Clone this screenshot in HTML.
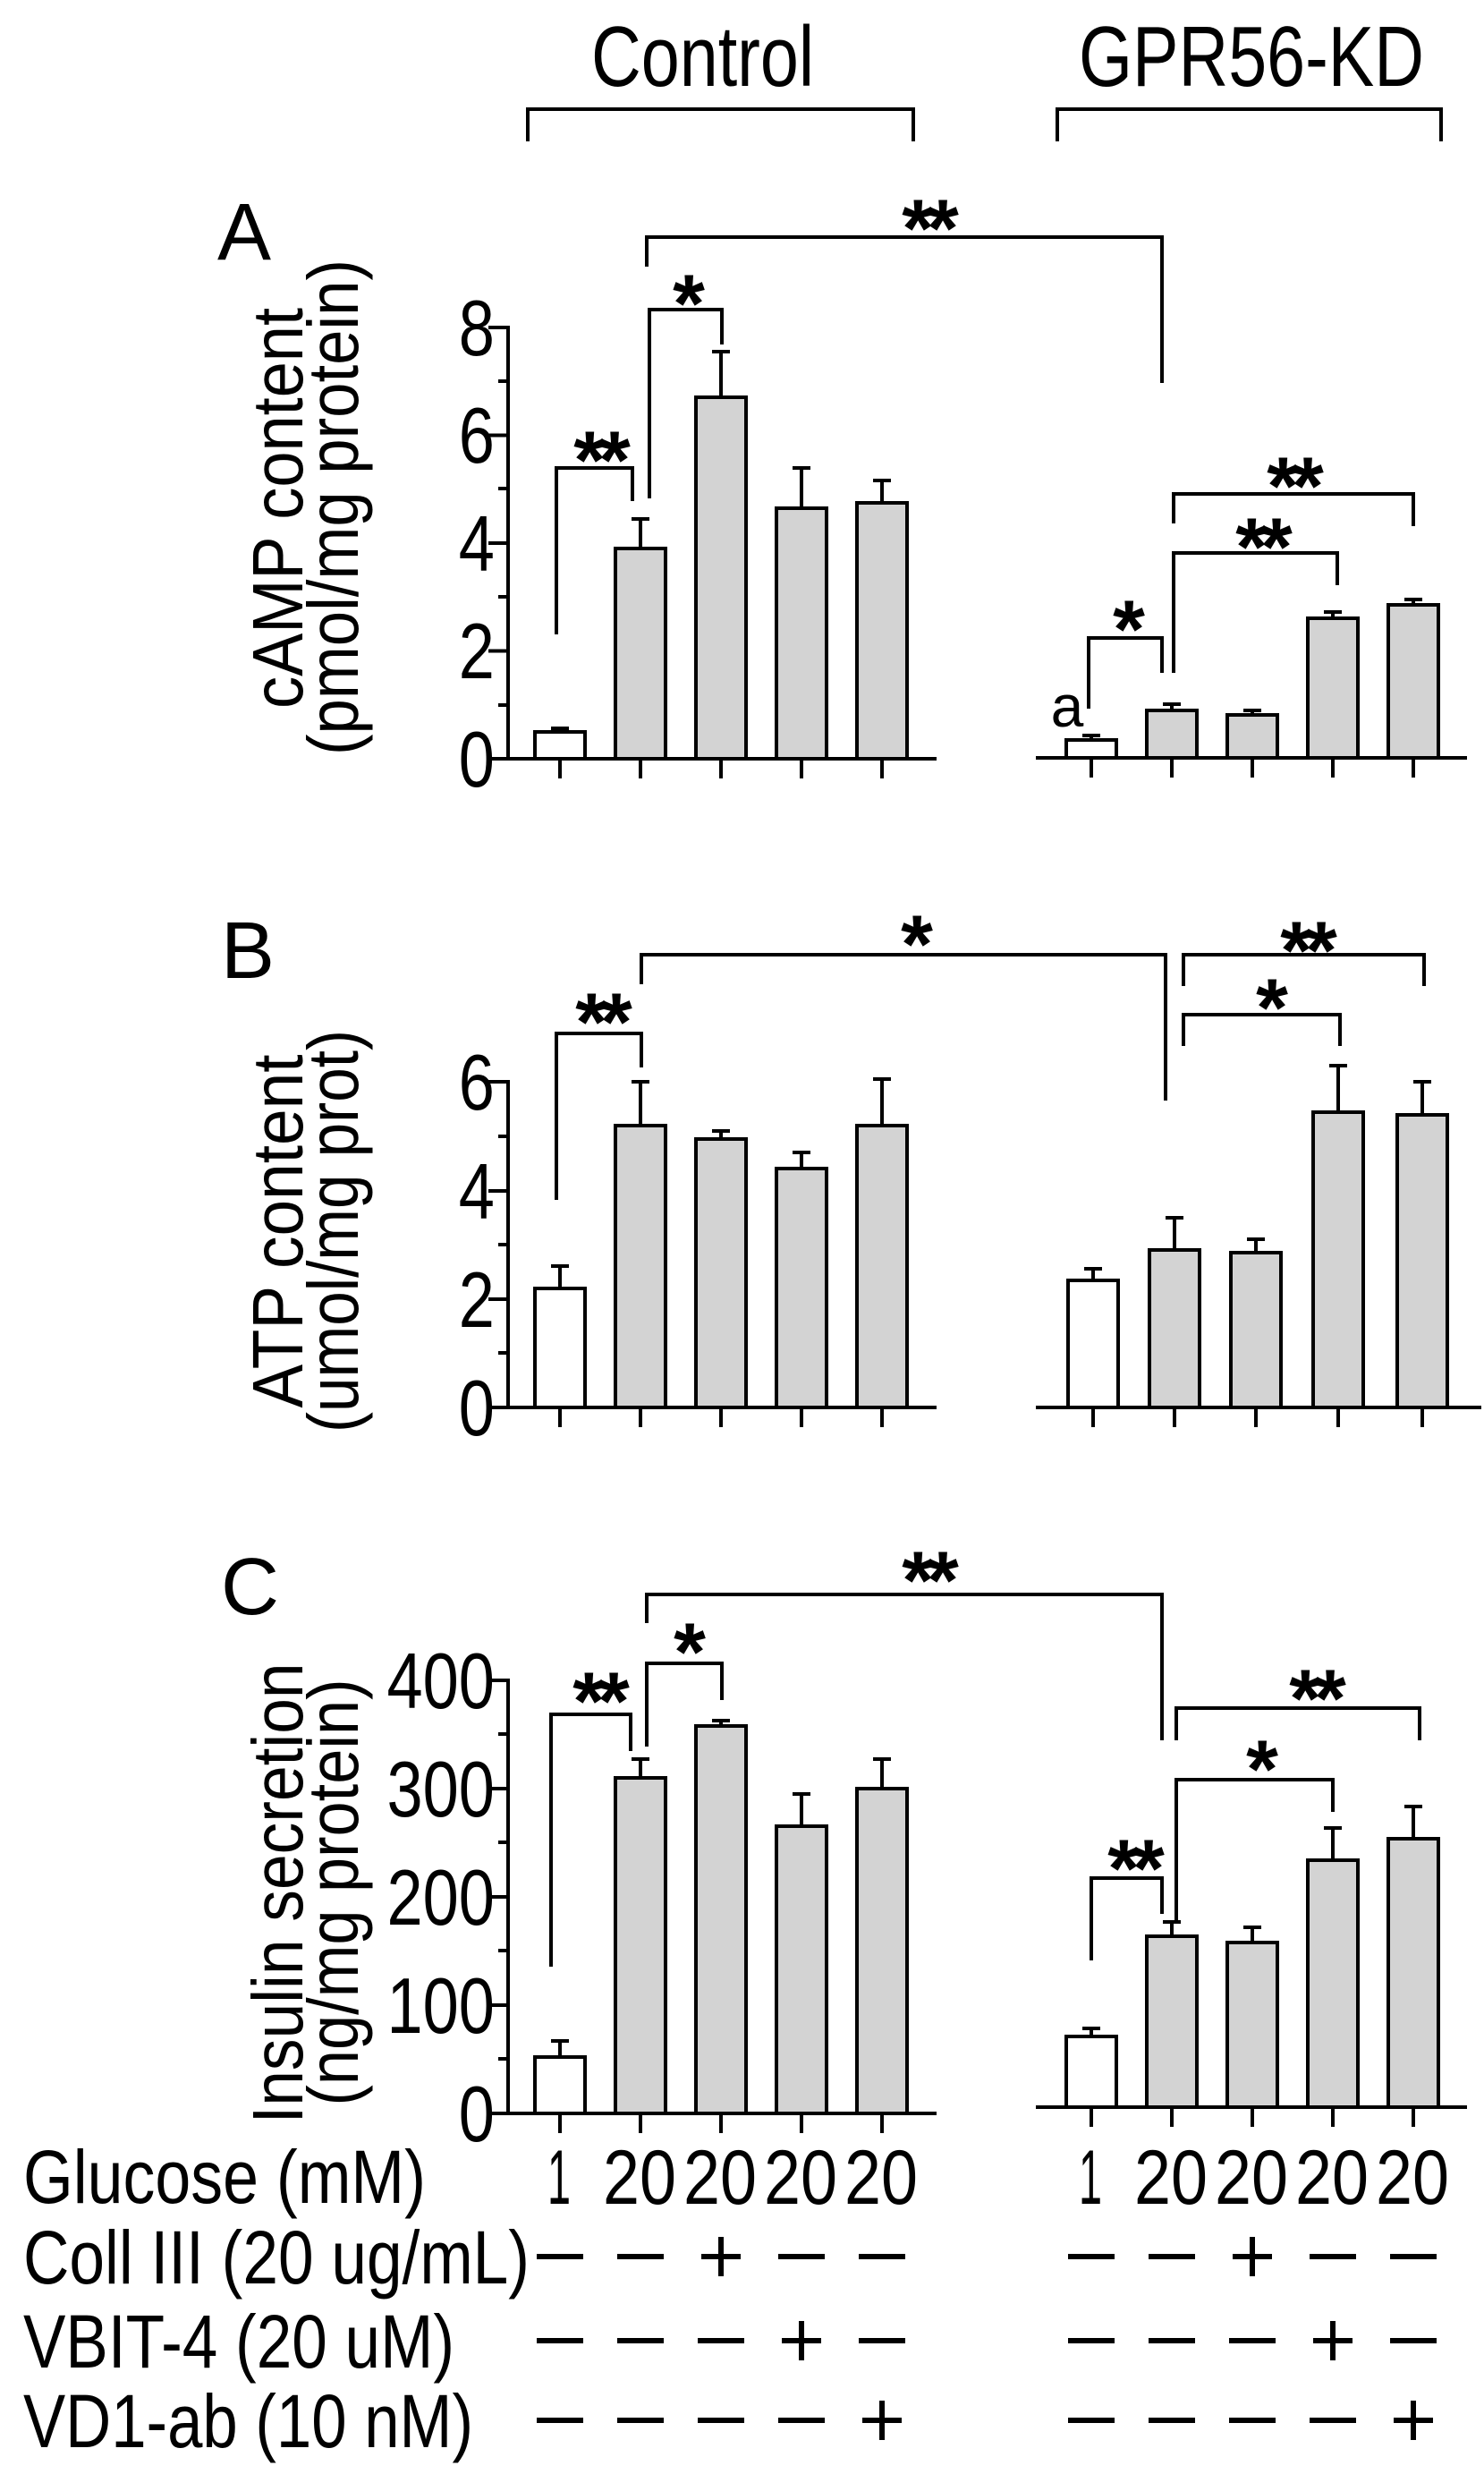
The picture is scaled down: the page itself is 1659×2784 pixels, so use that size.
<!DOCTYPE html>
<html><head><meta charset="utf-8"><style>
html,body{margin:0;padding:0;background:#fff;}
svg{display:block;}
text{font-family:"Liberation Sans",Arial,sans-serif;fill:#000;}
.st{font-size:92px;font-weight:bold;letter-spacing:-8px;}
</style></head><body>
<svg width="1659" height="2784" viewBox="0 0 1659 2784" xmlns="http://www.w3.org/2000/svg">
<rect width="1659" height="2784" fill="#fff"/>
<g font-size="96">
<text x="661" y="96" textLength="249" lengthAdjust="spacingAndGlyphs">Control</text>
<text x="1206" y="96" textLength="386" lengthAdjust="spacingAndGlyphs">GPR56-KD</text>
</g>
<g fill="none" stroke="#000" stroke-width="4">
<polyline points="590,158 590,122 1021,122 1021,158"/>
<polyline points="1182,158 1182,122 1611,122 1611,158"/>
</g>
<g font-size="90">
<text x="243" y="290">A</text>
<text x="247" y="1093">B</text>
<text x="247" y="1804">C</text>
</g>

<!-- ========== Panel A ========== -->
<g stroke="#000" stroke-width="4" fill="none">
<line x1="568" y1="364" x2="568" y2="850"/>
<line x1="566" y1="848" x2="1047" y2="848"/>
<line x1="1158" y1="847" x2="1640" y2="847"/>
<path d="M546 848H568M546 727.5H568M546 607H568M546 486.5H568M546 366H568M557 788H568M557 667H568M557 546H568M557 426H568"/>
<path d="M626 848v22M716 848v22M806 848v22M896 848v22M986 848v22"/>
<path d="M1220 847v22M1310 847v22M1400 847v22M1490 847v22M1580 847v22"/>
</g>
<g font-size="88" text-anchor="end" transform="matrix(0.82,0,0,1,99.5,0)">
<text x="553" y="879">0</text><text x="553" y="758">2</text><text x="553" y="638">4</text><text x="553" y="517">6</text><text x="553" y="397">8</text>
</g>
<g stroke="#000" stroke-width="4">
<path d="M716 613V580M706 580H726M806 444V393M796 393H816M896 568V523M886 523H906M986 562V537M976 537H996M626 818V814M616 814H636"/>
<path d="M1220 827V822M1210 822H1230M1310 794V787M1300 787H1320M1400 799V794M1390 794H1410M1490 691V684M1480 684H1500M1580 676V670M1570 670H1590"/>
<rect x="598" y="818" width="56" height="30" fill="#fff"/>
<rect x="688" y="613" width="56" height="235" fill="#d3d3d3"/>
<rect x="778" y="444" width="56" height="404" fill="#d3d3d3"/>
<rect x="868" y="568" width="56" height="280" fill="#d3d3d3"/>
<rect x="958" y="562" width="56" height="286" fill="#d3d3d3"/>
<rect x="1192" y="827" width="56" height="20" fill="#fff"/>
<rect x="1282" y="794" width="56" height="53" fill="#d3d3d3"/>
<rect x="1372" y="799" width="56" height="48" fill="#d3d3d3"/>
<rect x="1462" y="691" width="56" height="156" fill="#d3d3d3"/>
<rect x="1552" y="676" width="56" height="171" fill="#d3d3d3"/>
</g>
<g stroke="#000" stroke-width="4" fill="none">
<polyline points="723,298 723,265 1299,265 1299,428"/>
<polyline points="726,557 726,346 807,346 807,385"/>
<polyline points="622,709 622,523 707,523 707,560"/>
<polyline points="1217,792 1217,713 1299,713 1299,752"/>
<polyline points="1312,752 1312,618 1495,618 1495,654"/>
<polyline points="1312,585 1312,552 1580,552 1580,588"/>
</g>
<g class="st" text-anchor="middle">
<text x="1036" y="287">**</text>
<text x="766" y="371">*</text>
<text x="669" y="546">**</text>
<text x="1258" y="735">*</text>
<text x="1409" y="643">**</text>
<text x="1444" y="575">**</text>
</g>
<text x="1193" y="812" font-size="66" font-family="Liberation Serif" text-anchor="middle">a</text>
<g font-size="80" text-anchor="middle">
<text transform="translate(338,568) rotate(-90)" textLength="448" lengthAdjust="spacingAndGlyphs">cAMP content</text>
<text transform="translate(400,567) rotate(-90)" textLength="554" lengthAdjust="spacingAndGlyphs">(pmol/mg protein)</text>
</g>

<!-- ========== Panel B ========== -->
<g stroke="#000" stroke-width="4" fill="none">
<line x1="568" y1="1207" x2="568" y2="1575"/>
<line x1="566" y1="1573" x2="1047" y2="1573"/>
<line x1="1158" y1="1573" x2="1656" y2="1573"/>
<path d="M546 1573H568M546 1452H568M546 1331H568M546 1209H568M557 1512H568M557 1391H568M557 1270H568"/>
<path d="M626 1573v22M716 1573v22M806 1573v22M896 1573v22M986 1573v22"/>
<path d="M1222 1573v22M1313 1573v22M1404 1573v22M1496 1573v22M1590 1573v22"/>
</g>
<g font-size="88" text-anchor="end" transform="matrix(0.82,0,0,1,99.5,0)">
<text x="553" y="1604">0</text><text x="553" y="1483">2</text><text x="553" y="1362">4</text><text x="553" y="1240">6</text>
</g>
<g stroke="#000" stroke-width="4">
<path d="M626 1440V1415M616 1415H636M716 1258V1209M706 1209H726M806 1273V1264M796 1264H816M896 1306V1288M886 1288H906M986 1258V1206M976 1206H996"/>
<path d="M1222 1431V1418M1212 1418H1232M1313 1397V1361M1303 1361H1323M1404 1400V1385M1394 1385H1414M1496 1243V1191M1486 1191H1506M1590 1246V1209M1580 1209H1600"/>
<rect x="598" y="1440" width="56" height="133" fill="#fff"/>
<rect x="688" y="1258" width="56" height="315" fill="#d3d3d3"/>
<rect x="778" y="1273" width="56" height="300" fill="#d3d3d3"/>
<rect x="868" y="1306" width="56" height="267" fill="#d3d3d3"/>
<rect x="958" y="1258" width="56" height="315" fill="#d3d3d3"/>
<rect x="1194" y="1431" width="56" height="142" fill="#fff"/>
<rect x="1285" y="1397" width="56" height="176" fill="#d3d3d3"/>
<rect x="1376" y="1400" width="56" height="173" fill="#d3d3d3"/>
<rect x="1468" y="1243" width="56" height="330" fill="#d3d3d3"/>
<rect x="1562" y="1246" width="56" height="327" fill="#d3d3d3"/>
</g>
<g stroke="#000" stroke-width="4" fill="none">
<polyline points="717,1100 717,1067 1303,1067 1303,1230"/>
<polyline points="1323,1102 1323,1067 1592,1067 1592,1102"/>
<polyline points="1323,1169 1323,1134 1498,1134 1498,1169"/>
<polyline points="622,1341 622,1155 717,1155 717,1193"/>
</g>
<g class="st" text-anchor="middle">
<text x="1021" y="1087">*</text>
<text x="1459" y="1094">**</text>
<text x="1418" y="1158">*</text>
<text x="671" y="1174">**</text>
</g>
<g font-size="80" text-anchor="middle">
<text transform="translate(338,1376) rotate(-90)" textLength="395" lengthAdjust="spacingAndGlyphs">ATP content</text>
<text transform="translate(400,1376) rotate(-90)" textLength="450" lengthAdjust="spacingAndGlyphs">(umol/mg prot)</text>
</g>

<!-- ========== Panel C ========== -->
<g stroke="#000" stroke-width="4" fill="none">
<line x1="568" y1="1876" x2="568" y2="2364"/>
<line x1="566" y1="2362" x2="1047" y2="2362"/>
<line x1="1158" y1="2355" x2="1640" y2="2355"/>
<path d="M546 2362H568M546 2241H568M546 2120H568M546 1999H568M546 1878H568M557 2301H568M557 2180H568M557 2059H568M557 1938H568"/>
<path d="M626 2362v22M716 2362v22M806 2362v22M896 2362v22M986 2362v22"/>
<path d="M1220 2355v22M1310 2355v22M1400 2355v22M1490 2355v22M1580 2355v22"/>
</g>
<g font-size="88" text-anchor="end" transform="matrix(0.82,0,0,1,99.5,0)">
<text x="553" y="2393">0</text><text x="553" y="2272">100</text><text x="553" y="2151">200</text><text x="553" y="2030">300</text><text x="553" y="1909">400</text>
</g>
<g stroke="#000" stroke-width="4">
<path d="M626 2299V2281M616 2281H636M716 1987V1966M706 1966H726M806 1929V1923M796 1923H816M896 2041V2005M886 2005H906M986 1999V1966M976 1966H996"/>
<path d="M1220 2276V2267M1210 2267H1230M1310 2164V2148M1300 2148H1320M1400 2171V2154M1390 2154H1410M1490 2079V2043M1480 2043H1500M1580 2055V2019M1570 2019H1590"/>
<rect x="598" y="2299" width="56" height="63" fill="#fff"/>
<rect x="688" y="1987" width="56" height="375" fill="#d3d3d3"/>
<rect x="778" y="1929" width="56" height="433" fill="#d3d3d3"/>
<rect x="868" y="2041" width="56" height="321" fill="#d3d3d3"/>
<rect x="958" y="1999" width="56" height="363" fill="#d3d3d3"/>
<rect x="1192" y="2276" width="56" height="79" fill="#fff"/>
<rect x="1282" y="2164" width="56" height="191" fill="#d3d3d3"/>
<rect x="1372" y="2171" width="56" height="184" fill="#d3d3d3"/>
<rect x="1462" y="2079" width="56" height="276" fill="#d3d3d3"/>
<rect x="1552" y="2055" width="56" height="300" fill="#d3d3d3"/>
</g>
<g stroke="#000" stroke-width="4" fill="none">
<polyline points="723,1814 723,1782 1299,1782 1299,1945"/>
<polyline points="616,2198 616,1916 705,1916 705,1957"/>
<polyline points="723,1952 723,1859 807,1859 807,1900"/>
<polyline points="1315,1945 1315,1909 1587,1909 1587,1945"/>
<polyline points="1315,2146 1315,1989 1490,1989 1490,2025"/>
<polyline points="1220,2191 1220,2099 1299,2099 1299,2139"/>
</g>
<g class="st" text-anchor="middle">
<text x="1036" y="1798">**</text>
<text x="668" y="1933">**</text>
<text x="767" y="1878">*</text>
<text x="1469" y="1930">**</text>
<text x="1407" y="2009">*</text>
<text x="1266" y="2120">**</text>
</g>
<g font-size="80" text-anchor="middle">
<text transform="translate(338,2116) rotate(-90)" textLength="515" lengthAdjust="spacingAndGlyphs">Insulin secretion</text>
<text transform="translate(400,2115) rotate(-90)" textLength="477" lengthAdjust="spacingAndGlyphs">(ng/mg protein)</text>
</g>

<!-- ========== Table ========== -->
<g font-size="84">
<text x="26" y="2462" textLength="450" lengthAdjust="spacingAndGlyphs">Glucose (mM)</text>
<text x="26" y="2552" textLength="566" lengthAdjust="spacingAndGlyphs">Coll III (20 ug/mL)</text>
<text x="26" y="2646" textLength="482" lengthAdjust="spacingAndGlyphs">VBIT-4 (20 uM)</text>
<text x="26" y="2735" textLength="503" lengthAdjust="spacingAndGlyphs">VD1-ab (10 nM)</text>
</g>
<g font-size="86">
<text x="612" y="2463" textLength="26" lengthAdjust="spacingAndGlyphs">1</text>
<text x="674" y="2463" textLength="82" lengthAdjust="spacingAndGlyphs">20</text>
<text x="764" y="2463" textLength="82" lengthAdjust="spacingAndGlyphs">20</text>
<text x="854" y="2463" textLength="82" lengthAdjust="spacingAndGlyphs">20</text>
<text x="944" y="2463" textLength="82" lengthAdjust="spacingAndGlyphs">20</text>
<text x="1206" y="2463" textLength="26" lengthAdjust="spacingAndGlyphs">1</text>
<text x="1268" y="2463" textLength="82" lengthAdjust="spacingAndGlyphs">20</text>
<text x="1358" y="2463" textLength="82" lengthAdjust="spacingAndGlyphs">20</text>
<text x="1448" y="2463" textLength="82" lengthAdjust="spacingAndGlyphs">20</text>
<text x="1538" y="2463" textLength="82" lengthAdjust="spacingAndGlyphs">20</text>
</g>
<g stroke="#000" stroke-width="6" fill="none">
<path d="M600 2522h52M690 2522h52M784 2522h44M806 2500v44M870 2522h52M960 2522h52"/>
<path d="M1194 2522h52M1284 2522h52M1378 2522h44M1400 2500v44M1464 2522h52M1554 2522h52"/>
<path d="M600 2616h52M690 2616h52M780 2616h52M874 2616h44M896 2594v44M960 2616h52"/>
<path d="M1194 2616h52M1284 2616h52M1374 2616h52M1468 2616h44M1490 2594v44M1554 2616h52"/>
<path d="M600 2705h52M690 2705h52M780 2705h52M870 2705h52M964 2705h44M986 2683v44"/>
<path d="M1194 2705h52M1284 2705h52M1374 2705h52M1464 2705h52M1558 2705h44M1580 2683v44"/>
</g>
</svg>
</body></html>
